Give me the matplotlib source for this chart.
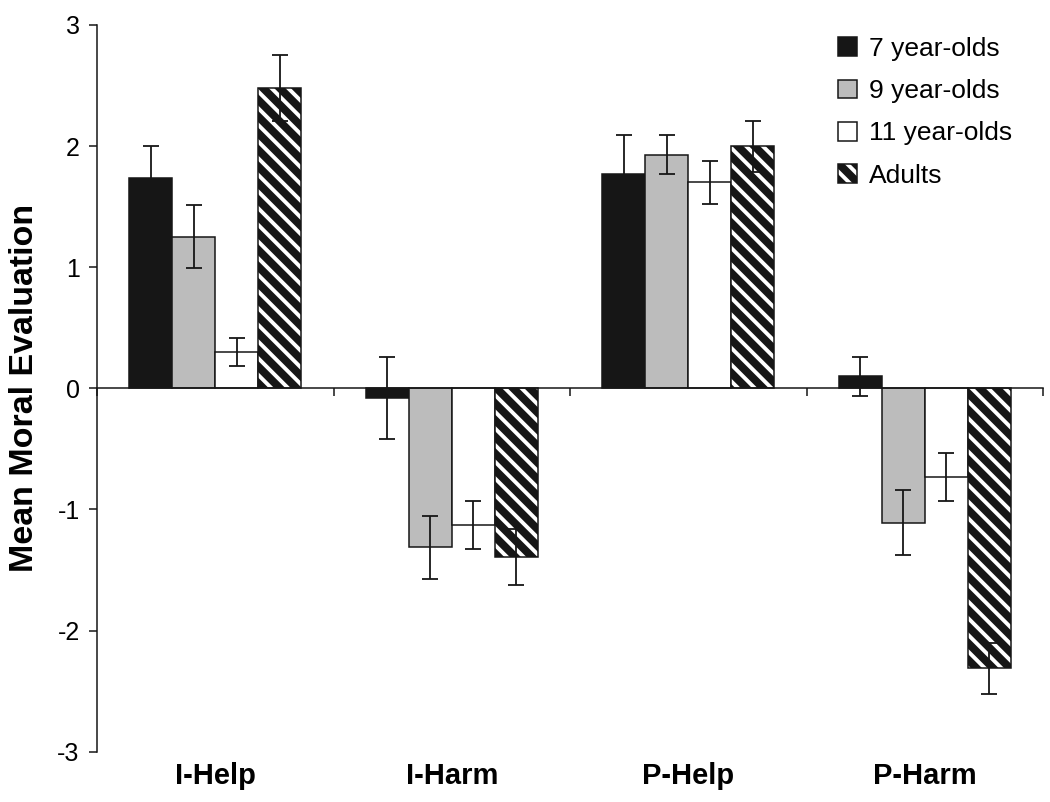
import matplotlib
matplotlib.use('Agg')
import matplotlib.pyplot as plt
from matplotlib.patches import Patch
import numpy as np

# data
conditions = ['I-Help', 'I-Harm', 'P-Help', 'P-Harm']
groups = ['7 year-olds', '9 year-olds', '11 year-olds', 'Adults']
means_7 = [1.74, -0.08, 1.77, 0.10]
means_9 = [1.25, -1.31, 1.93, -1.11]
means_11 = [0.30, -1.13, 1.70, -0.73]
means_adult = [2.48, -1.39, 2.00, -2.31]
err_7 = [0.26, 0.34, 0.32, 0.16]
err_9 = [0.26, 0.26, 0.16, 0.27]
err_11 = [0.115, 0.20, 0.18, 0.20]
err_adult = [0.27, 0.23, 0.21, 0.21]

plt.rcParams['axes.unicode_minus'] = False
plt.rcParams['font.family'] = ['Liberation Sans', 'DejaVu Sans']
plt.rcParams['hatch.linewidth'] = 2.8

BLACK = '#161616'
GRAY = '#bcbcbc'

fig = plt.figure(figsize=(10.5, 8.02), dpi=100)
ax = fig.add_axes([97 / 1050, 1 - 751.7 / 802, 946 / 1050, (751.7 - 25) / 802])

x = np.arange(len(conditions))
w = 0.182
offsets = np.array([-1.5, -0.5, 0.5, 1.5]) * w
lw = 1.1

# plain bars
ax.bar(x + offsets[0], means_7, w, color=BLACK, edgecolor=BLACK, lw=lw, zorder=2)
ax.bar(x + offsets[1], means_9, w, color=GRAY, edgecolor=BLACK, lw=lw, zorder=2)
ax.bar(x + offsets[2], means_11, w, color='white', edgecolor=BLACK, lw=lw, zorder=2)
# hatched adults bar: white stripes on black, then black outline on top
ax.bar(x + offsets[3], means_adult, w, color=BLACK, edgecolor='white', lw=0,
       hatch='\\\\', zorder=2)
ax.bar(x + offsets[3], means_adult, w, fill=False, edgecolor=BLACK, lw=lw, zorder=2.5)

# error bars
for off, m, e in zip(offsets, [means_7, means_9, means_11, means_adult],
                     [err_7, err_9, err_11, err_adult]):
    ax.errorbar(x + off, m, yerr=e, fmt='none', ecolor=BLACK, elinewidth=1.3,
                capsize=6, capthick=1.3, zorder=3)

ax.set_xlim(-0.5, 3.5)
ax.set_ylim(-3, 3)
ax.set_yticks(range(-3, 4))
ax.set_yticklabels([str(v) for v in range(-3, 4)])

ax.spines['top'].set_visible(False)
ax.spines['right'].set_visible(False)
ax.spines['bottom'].set_position(('data', 0))
for s in ['left', 'bottom']:
    ax.spines[s].set_linewidth(1.1)
    ax.spines[s].set_color(BLACK)
    ax.spines[s].set_zorder(4)

ax.set_xticks(np.arange(-0.5, 4.0, 1.0))
ax.set_xticklabels([])
ax.tick_params(axis='x', direction='out', length=5.5, width=1.1, color=BLACK)
ax.tick_params(axis='y', direction='out', length=5.5, width=1.1, color=BLACK,
               labelsize=18, pad=7)

# category labels below the plot
trans = ax.get_xaxis_transform()
for xi, lab in zip(x, conditions):
    ax.text(xi, -0.014, lab, transform=trans, ha='center', va='top',
            fontsize=21, fontweight='bold')

fig.text(25 / 1050, 1 - 388 / 802, 'Mean Moral Evaluation', rotation=90,
         ha='center', va='center', fontsize=24.5, fontweight='bold')

# legend
hatch_patch = Patch(facecolor=BLACK, edgecolor='white', lw=0, hatch='\\\\')
outline = Patch(fill=False, edgecolor=BLACK, lw=lw)
handles = [Patch(facecolor=BLACK, edgecolor=BLACK, lw=lw),
           Patch(facecolor=GRAY, edgecolor=BLACK, lw=lw),
           Patch(facecolor='white', edgecolor=BLACK, lw=lw),
           (hatch_patch, outline)]
fig.legend(handles, groups, loc='upper left',
           bbox_to_anchor=(838 / 1050, 1 - 37 / 802), frameon=False,
           fontsize=19, handlelength=0.72, handleheight=0.72, handletextpad=0.45,
           labelspacing=0.69, borderpad=0, borderaxespad=0)

fig.savefig('out.png', dpi=100)
